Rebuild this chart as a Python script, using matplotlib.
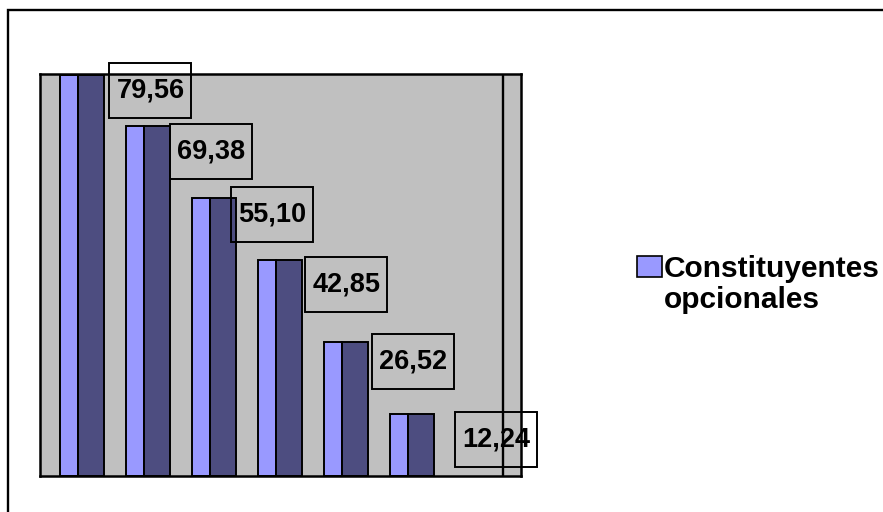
import numpy as np
import matplotlib
matplotlib.use("Agg")
import matplotlib.pyplot as plt
from matplotlib.patches import Rectangle
from matplotlib.transforms import IdentityTransform

# data
values = [79.56, 69.38, 55.10, 42.85, 26.52, 12.24]
labels = ["79,56", "69,38", "55,10", "42,85", "26,52", "12,24"]
series_name = ["Constituyentes", "opcionales"]

# label boxes sit unevenly next to the bar tops (pixels: right shift, lift above bar top)
label_dx = [5, 0, -5, 3, 4, 21]
label_dy = [12, 2, 11, 3, 8, 2]

W, H = 883, 512
plt.rcParams["font.family"] = ["Liberation Sans", "DejaVu Sans"]
fig = plt.figure(figsize=(W / 100, H / 100), dpi=100)
ax = fig.add_axes([40 / W, 1 - 476 / H, 481 / W, 402 / H])
ax.set_facecolor("#C0C0C0")

x = np.arange(len(values))
w_front, w_side = 0.28, 0.394
ax.bar(x, values, width=w_front, align="edge", color="#9999FF", edgecolor="black", lw=1.4)
ax.bar(x + w_front, values, width=w_side, align="edge", color="#4D4D80", edgecolor="black", lw=1.4)
ax.axvline(6.71, color="black", lw=1.7)

ax.set_xlim(-0.303, 6.985)
ax.set_ylim(0, 79.8)
ax.set_xticks([])
ax.set_yticks([])
for s in ax.spines.values():
    s.set_linewidth(1.8)

# data labels in open boxes
ident = IdentityTransform()
for i, v in enumerate(values):
    px, py = ax.transData.transform((x[i] + w_front + w_side, v))
    left = px + label_dx[i]
    top = py + label_dy[i]
    fig.add_artist(Rectangle((left, top - 55), 82, 55, transform=ident, fill=False,
                             edgecolor="black", lw=1.4, clip_on=False, zorder=5))
    fig.text(left + 41, top - 27.5, labels[i], transform=ident, ha="center", va="center",
             fontsize=19.5, fontweight="bold", zorder=6)

# legend
fig.add_artist(Rectangle((637, H - 277), 25, 21, transform=ident, facecolor="#9999FF",
                         edgecolor="black", lw=1.2, clip_on=False))
fig.text(664, H - 277, series_name[0], transform=ident, ha="left", va="baseline",
         fontsize=21.5, fontweight="bold")
fig.text(664, H - 308, series_name[1], transform=ident, ha="left", va="baseline",
         fontsize=21.5, fontweight="bold")

# outer chart border (runs off the right and bottom edge)
fig.add_artist(Rectangle((8, -20), 920, H - 10 + 20, transform=ident, fill=False,
                         edgecolor="black", lw=1.7, clip_on=False))

fig.savefig("out.png", dpi=100)
